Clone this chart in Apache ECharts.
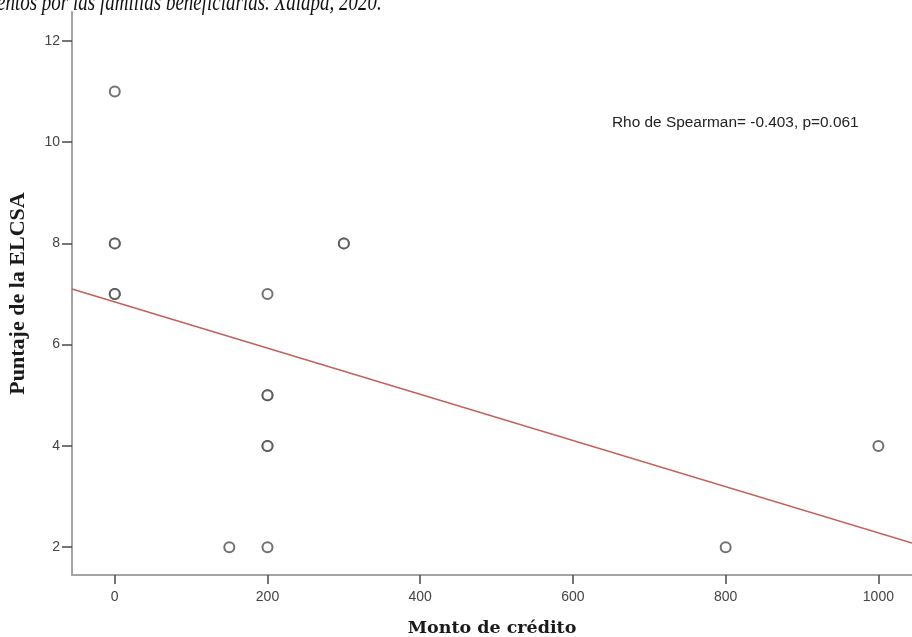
<!DOCTYPE html>
<html>
<head>
<meta charset="utf-8">
<script src="https://cdn.jsdelivr.net/npm/echarts@6/dist/echarts.min.js"></script>
<style>
  html, body { margin: 0; padding: 0; background: #ffffff; }
  #chart { width: 912px; height: 637px; }
</style>
</head>
<body>
<div id="chart"></div>
<script>
// Monto de crédito vs. puntaje ELCSA (repeated pairs listed once per family)
const montoCredito = [0, 0, 0, 0, 0, 150, 200, 200, 200, 200, 200, 200, 300, 300, 800, 1000];
const puntajeElcsa = [11, 8, 8, 7, 7, 2, 7, 5, 5, 4, 4, 2, 8, 8, 2, 4];

// Fitted linear trend, evaluated at the ends of the x range
const trendX = [-56, 1044];
const trendY = [7.10, 2.08];

const xTicks = [0, 200, 400, 600, 800, 1000];
const yTicks = [2, 4, 6, 8, 10, 12];

const captionText = 'entos por las familias beneficiarias. Xalapa, 2020.';
const statText = 'Rho de Spearman= -0.403, p=0.061';

const points = montoCredito.map((x, i) => [x, puntajeElcsa[i]]);
const trend = trendX.map((x, i) => [x, trendY[i]]);

const chart = echarts.init(document.getElementById('chart'));

const axisLineStyle = { color: '#a3a3a3', width: 2 };
const tickStyle = { color: '#4a4a4a', width: 1.5 };
const labelStyle = { color: '#444444', fontFamily: 'Liberation Sans, Arial, sans-serif', fontSize: 14 };
const plainNumber = v => String(v);

chart.setOption({
  backgroundColor: '#ffffff',
  animation: false,
  grid: { left: 72, right: 0, top: 12, bottom: 62, containLabel: false, outerBoundsMode: 'none' },
  xAxis: {
    type: 'value',
    min: -56,
    max: 1044,
    splitLine: { show: false },
    axisLine: { show: true, onZero: false, lineStyle: axisLineStyle },
    axisTick: { show: true, length: 9, lineStyle: tickStyle, customValues: xTicks },
    axisLabel: Object.assign({ margin: 15, customValues: xTicks, formatter: plainNumber }, labelStyle),
    name: 'Monto de crédito',
    nameLocation: 'middle',
    nameGap: 44,
    nameTextStyle: { fontFamily: 'DejaVu Serif, serif', fontWeight: 'bold', fontSize: 17.5, color: '#1a1a1a' }
  },
  yAxis: {
    type: 'value',
    min: 1.45,
    max: 12.57,
    splitLine: { show: false },
    axisLine: { show: true, onZero: false, lineStyle: axisLineStyle },
    axisTick: { show: true, length: 10, lineStyle: tickStyle, customValues: yTicks },
    axisLabel: Object.assign({ margin: 12, customValues: yTicks, formatter: plainNumber }, labelStyle),
    name: 'Puntaje de la ELCSA',
    nameLocation: 'middle',
    nameGap: 43,
    nameTextStyle: { fontFamily: 'Liberation Serif, serif', fontWeight: 'bold', fontSize: 22, color: '#1a1a1a' }
  },
  graphic: [
    {
      type: 'text',
      x: -3,
      y: 16,
      scaleX: 0.76,
      style: {
        text: captionText,
        font: 'italic 25px "Liberation Serif", serif',
        fill: '#111111',
        verticalAlign: 'bottom'
      }
    },
    {
      type: 'text',
      x: 612,
      y: 116,
      scaleX: 1.1,
      style: {
        text: statText,
        font: '14px "Liberation Sans", Arial, sans-serif',
        fill: '#222222'
      }
    }
  ],
  series: [
    {
      type: 'line',
      data: trend,
      symbol: 'none',
      lineStyle: { color: '#c65f5a', width: 1.5 },
      silent: true,
      z: 1
    },
    {
      type: 'scatter',
      data: points,
      symbol: 'emptyCircle',
      symbolSize: 10,
      itemStyle: { color: '#4d4d4d', borderColor: '#4d4d4d', borderWidth: 1.8 },
      z: 2
    }
  ]
});
</script>
</body>
</html>
